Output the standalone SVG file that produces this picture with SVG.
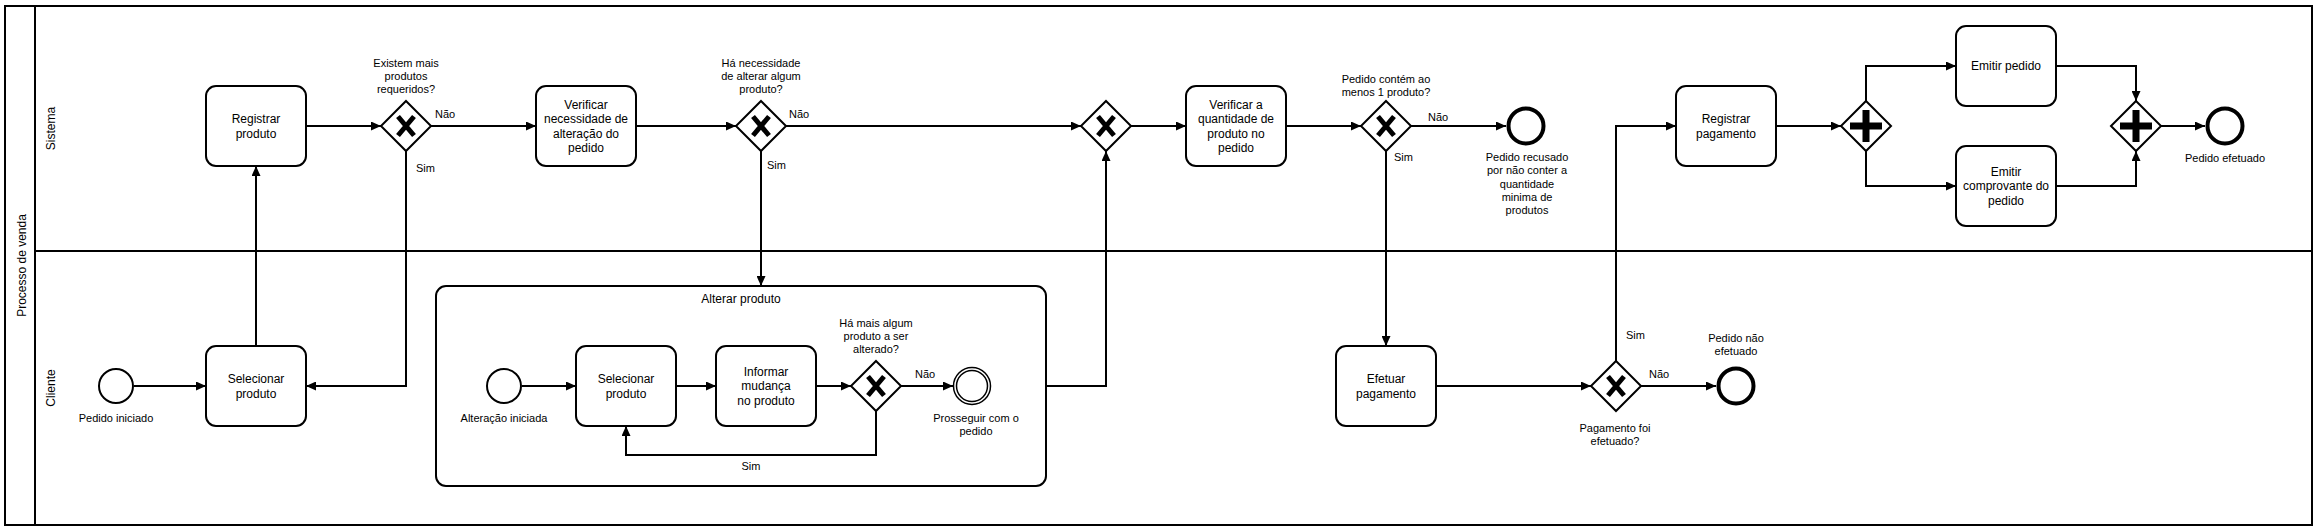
<svg xmlns="http://www.w3.org/2000/svg" width="2320" height="532" viewBox="0 0 2320 532">
<defs>
<style>
.ln{fill:none;stroke:#000;stroke-width:2}
.task{fill:#fff;stroke:#000;stroke-width:2}
.sub{fill:#fff;stroke:#000;stroke-width:2}
.gws{fill:#fff;stroke:#000;stroke-width:2}
.ev{fill:#fff;stroke:#000;stroke-width:2}
.evend{fill:#fff;stroke:#000;stroke-width:4}
.evi{fill:#fff;stroke:#000;stroke-width:1.5}
.edge{fill:none;stroke:#000;stroke-width:2;marker-end:url(#arr)}
text{font-family:"Liberation Sans",Arial,Helvetica,sans-serif;fill:#000}
.t12{font-size:12px;text-anchor:middle}
.t11{font-size:11px;text-anchor:middle}
.l11{font-size:11px;text-anchor:start}
</style>
<marker id="arr" viewBox="0 0 10 9" refX="10" refY="4.5" markerWidth="10" markerHeight="9" markerUnits="userSpaceOnUse" orient="auto"><path d="M0,0 L10,4.5 L0,9 Z" fill="#000"/></marker>
<g id="gwx"><path class="gws" d="M0,-25 L25,0 L0,25 L-25,0 Z"/><path d="M-8,-9.5 L8,9.5 M8,-9.5 L-8,9.5" stroke="#000" stroke-width="5" fill="none"/></g>
<g id="gwp"><path class="gws" d="M0,-25 L25,0 L0,25 L-25,0 Z"/><rect x="-16" y="-3.5" width="32" height="7" fill="#000"/><rect x="-3.5" y="-16" width="7" height="32" fill="#000"/></g>
</defs>
<rect x="0" y="0" width="2320" height="532" fill="#fff"/>

<g id="pool">
<rect class="ln" x="5" y="6" width="2307" height="519"/>
<line class="ln" x1="35" y1="6" x2="35" y2="525"/>
<text class="t12" transform="translate(26,265.5) rotate(-90)">Processo de venda</text>
</g>
<g id="lane-sistema">
<text class="t12" transform="translate(55.3,128.5) rotate(-90)">Sistema</text>
</g>
<g id="lane-cliente">
<line class="ln" x1="35" y1="251" x2="2312" y2="251"/>
<text class="t12" transform="translate(55.3,388) rotate(-90)">Cliente</text>
</g>

<g id="sub-alterar-produto">
<rect class="sub" x="436" y="286" width="610" height="200" rx="10"/>
<text class="t12" x="741" y="303">Alterar produto</text>
</g>

<g id="connectors">
<path class="edge" d="M134,386 L206,386"/>
<path class="edge" d="M256,346 L256,166"/>
<path class="edge" d="M306,126 L381,126"/>
<path class="edge" d="M431,126 L536,126"/>
<path class="edge" d="M406,151 L406,386 L306,386"/>
<path class="edge" d="M636,126 L736,126"/>
<path class="edge" d="M786,126 L1081,126"/>
<path class="edge" d="M761,151 L761,286"/>
<path class="edge" d="M1046,386 L1106,386 L1106,151"/>
<path class="edge" d="M1131,126 L1186,126"/>
<path class="edge" d="M1286,126 L1361,126"/>
<path class="edge" d="M1411,126 L1506,126"/>
<path class="edge" d="M1386,151 L1386,346"/>
<path class="edge" d="M1436,386 L1591,386"/>
<path class="edge" d="M1641,386 L1716,386"/>
<path class="edge" d="M1616,361 L1616,126 L1676,126"/>
<path class="edge" d="M1776,126 L1841,126"/>
<path class="edge" d="M1866,101 L1866,66 L1956,66"/>
<path class="edge" d="M1866,151 L1866,186 L1956,186"/>
<path class="edge" d="M2056,66 L2136,66 L2136,101"/>
<path class="edge" d="M2056,186 L2136,186 L2136,151"/>
<path class="edge" d="M2161,126 L2205,126"/>
<path class="edge" d="M522,386 L576,386"/>
<path class="edge" d="M676,386 L716,386"/>
<path class="edge" d="M816,386 L851,386"/>
<path class="edge" d="M901,386 L953,386"/>
<path class="edge" d="M876,411 L876,455 L626,455 L626,426"/>
<text class="l11" x="435" y="118">Não</text>
<text class="l11" x="416" y="172">Sim</text>
<text class="l11" x="789" y="118">Não</text>
<text class="l11" x="767" y="169">Sim</text>
<text class="l11" x="1428" y="120.5">Não</text>
<text class="l11" x="1394" y="160.5">Sim</text>
<text class="l11" x="1626" y="339">Sim</text>
<text class="l11" x="1649" y="378">Não</text>
<text class="l11" x="915" y="378">Não</text>
<text class="t11" x="751" y="470">Sim</text>
</g>

<g id="start-pedido">
<circle class="ev" cx="116" cy="386" r="17"/>
<text class="t11" x="116" y="422">Pedido iniciado</text>
</g>
<g id="task-selecionar">
<rect class="task" x="206" y="346" width="100" height="80" rx="10"/>
<text class="t12" x="256" y="383">Selecionar</text>
<text class="t12" x="256" y="397.5">produto</text>
</g>
<g id="task-registrar-produto">
<rect class="task" x="206" y="86" width="100" height="80" rx="10"/>
<text class="t12" x="256" y="123">Registrar</text>
<text class="t12" x="256" y="137.5">produto</text>
</g>
<g id="gw-existem">
<use href="#gwx" x="406" y="126"/>
<text class="t11" x="406" y="67">Existem mais</text>
<text class="t11" x="406" y="80">produtos</text>
<text class="t11" x="406" y="93">requeridos?</text>
</g>
<g id="task-verificar-necessidade">
<rect class="task" x="536" y="86" width="100" height="80" rx="10"/>
<text class="t12" x="586" y="108.7">Verificar</text>
<text class="t12" x="586" y="123.1">necessidade de</text>
<text class="t12" x="586" y="137.5">alteração do</text>
<text class="t12" x="586" y="151.9">pedido</text>
</g>
<g id="gw-necessidade">
<use href="#gwx" x="761" y="126"/>
<text class="t11" x="761" y="67">Há necessidade</text>
<text class="t11" x="761" y="80">de alterar algum</text>
<text class="t11" x="761" y="93">produto?</text>
</g>
<g id="start-alteracao">
<circle class="ev" cx="504" cy="386" r="17"/>
<text class="t11" x="504" y="422">Alteração iniciada</text>
</g>
<g id="task-selecionar-2">
<rect class="task" x="576" y="346" width="100" height="80" rx="10"/>
<text class="t12" x="626" y="383">Selecionar</text>
<text class="t12" x="626" y="397.5">produto</text>
</g>
<g id="task-informar">
<rect class="task" x="716" y="346" width="100" height="80" rx="10"/>
<text class="t12" x="766" y="375.9">Informar</text>
<text class="t12" x="766" y="390.3">mudança</text>
<text class="t12" x="766" y="404.7">no produto</text>
</g>
<g id="gw-mais-algum">
<use href="#gwx" x="876" y="386"/>
<text class="t11" x="876" y="327">Há mais algum</text>
<text class="t11" x="876" y="340">produto a ser</text>
<text class="t11" x="876" y="353">alterado?</text>
</g>
<g id="end-prosseguir">
<circle class="evi" cx="972" cy="386" r="18.5"/>
<circle class="evi" cx="972" cy="386" r="15.5"/>
<text class="t11" x="976" y="422">Prosseguir com o</text>
<text class="t11" x="976" y="435">pedido</text>
</g>
<g id="gw-merge">
<use href="#gwx" x="1106" y="126"/>
</g>
<g id="task-verificar-quantidade">
<rect class="task" x="1186" y="86" width="100" height="80" rx="10"/>
<text class="t12" x="1236" y="108.7">Verificar a</text>
<text class="t12" x="1236" y="123.1">quantidade de</text>
<text class="t12" x="1236" y="137.5">produto no</text>
<text class="t12" x="1236" y="151.9">pedido</text>
</g>
<g id="gw-contem">
<use href="#gwx" x="1386" y="126"/>
<text class="t11" x="1386" y="83">Pedido contém ao</text>
<text class="t11" x="1386" y="96">menos 1 produto?</text>
</g>
<g id="end-recusado">
<circle class="evend" cx="1526" cy="126" r="17.5"/>
<text class="t11" x="1527" y="161">Pedido recusado</text>
<text class="t11" x="1527" y="174.3">por não conter a</text>
<text class="t11" x="1527" y="187.6">quantidade</text>
<text class="t11" x="1527" y="200.9">minima de</text>
<text class="t11" x="1527" y="214.2">produtos</text>
</g>
<g id="task-efetuar-pagamento">
<rect class="task" x="1336" y="346" width="100" height="80" rx="10"/>
<text class="t12" x="1386" y="383">Efetuar</text>
<text class="t12" x="1386" y="397.5">pagamento</text>
</g>
<g id="gw-pagamento">
<use href="#gwx" x="1616" y="386"/>
<text class="t11" x="1615" y="431.5">Pagamento foi</text>
<text class="t11" x="1615" y="444.5">efetuado?</text>
</g>
<g id="end-nao-efetuado">
<circle class="evend" cx="1736" cy="386" r="17.5"/>
<text class="t11" x="1736" y="341.5">Pedido não</text>
<text class="t11" x="1736" y="354.5">efetuado</text>
</g>
<g id="task-registrar-pagamento">
<rect class="task" x="1676" y="86" width="100" height="80" rx="10"/>
<text class="t12" x="1726" y="123">Registrar</text>
<text class="t12" x="1726" y="137.5">pagamento</text>
</g>
<g id="pgw-split">
<use href="#gwp" x="1866" y="126"/>
</g>
<g id="task-emitir-pedido">
<rect class="task" x="1956" y="26" width="100" height="80" rx="10"/>
<text class="t12" x="2006" y="70.3">Emitir pedido</text>
</g>
<g id="task-emitir-comprovante">
<rect class="task" x="1956" y="146" width="100" height="80" rx="10"/>
<text class="t12" x="2006" y="175.9">Emitir</text>
<text class="t12" x="2006" y="190.3">comprovante do</text>
<text class="t12" x="2006" y="204.7">pedido</text>
</g>
<g id="pgw-join">
<use href="#gwp" x="2136" y="126"/>
</g>
<g id="end-efetuado">
<circle class="evend" cx="2225" cy="126" r="17.5"/>
<text class="t11" x="2225" y="162">Pedido efetuado</text>
</g>
</svg>
